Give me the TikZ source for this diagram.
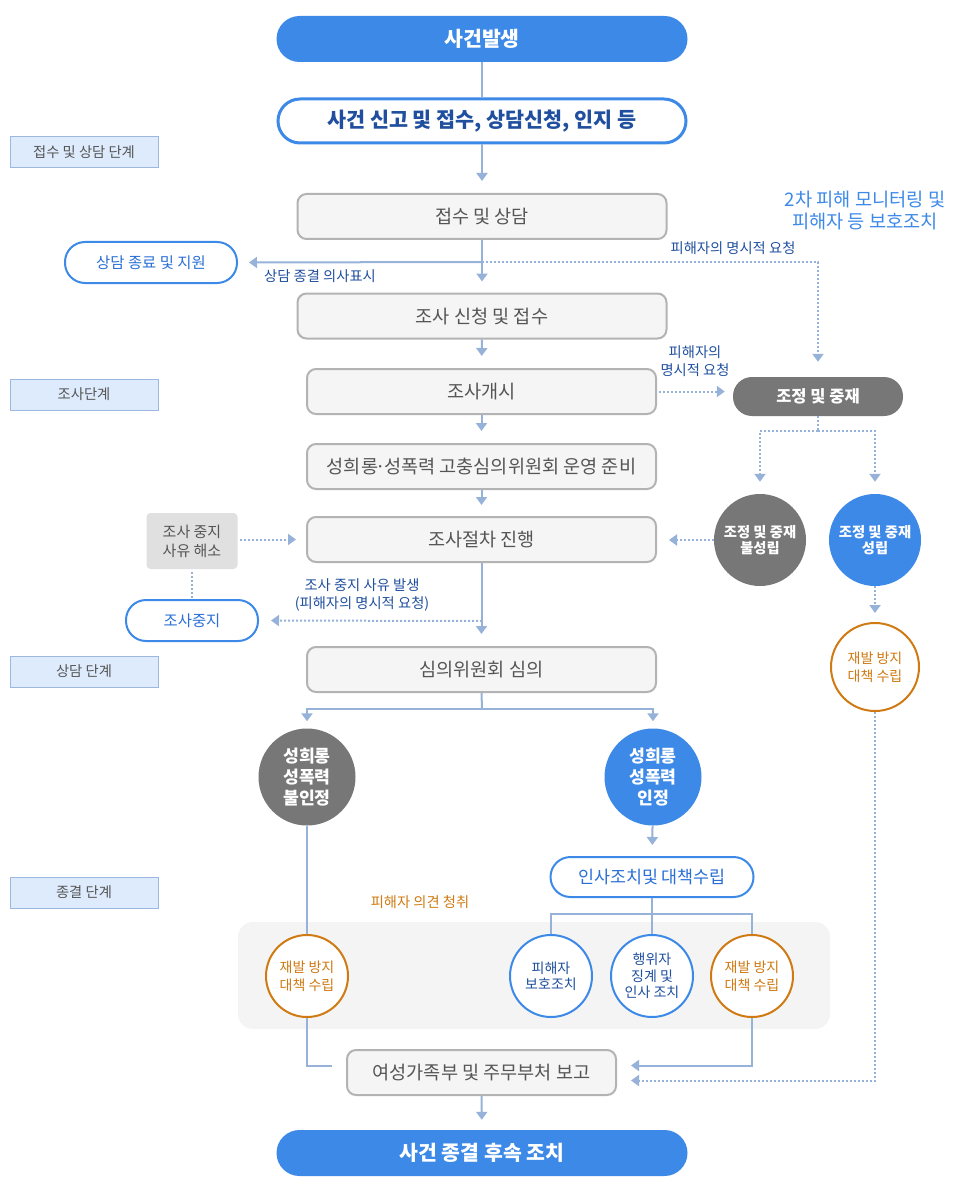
\documentclass[tikz,border=0pt]{standalone}
\usepackage{fontspec}
\setmainfont{Noto Sans CJK KR}
\usetikzlibrary{arrows.meta}
\definecolor{mainBlue}{HTML}{3D89E8}
\definecolor{navyText}{HTML}{1F4F9E}
\definecolor{pillText}{HTML}{2A70D6}
\definecolor{boxEdge}{HTML}{B3B3B3}
\definecolor{boxFill}{HTML}{F5F5F5}
\definecolor{boxText}{HTML}{555555}
\definecolor{darkGrey}{HTML}{777777}
\definecolor{warnOrange}{HTML}{CF7A12}
\definecolor{stageFill}{HTML}{DEEBFC}
\definecolor{stageEdge}{HTML}{9CB8E0}
\definecolor{lineBlue}{HTML}{97B2D9}
\definecolor{zoneFill}{HTML}{F4F4F4}
\definecolor{pauseFill}{HTML}{E0E0E0}

\begin{document}
\begin{tikzpicture}[x=1pt, y=-1pt, >={Triangle[width=11pt,length=8pt]},
  every node/.style={inner sep=0pt, align=center},
  conn/.style={draw=lineBlue, line width=2pt},
  dotconn/.style={conn, dash pattern=on 2pt off 2pt},
  stagebox/.style={draw=stageEdge, fill=stageFill, line width=1pt, minimum width=148pt, minimum height=31pt, text=boxText, font=\fontsize{14.3}{17}\selectfont},
  procbox/.style={draw=boxEdge, fill=boxFill, line width=2pt, rounded corners=9pt, minimum height=45pt, text=boxText, font=\fontsize{18.6}{22}\selectfont},
  fillpill/.style={fill=mainBlue, rounded corners=23pt, minimum width=411pt, minimum height=46pt, text=white, font=\fontsize{20.5}{24}\selectfont\bfseries},
  linepill/.style={draw=mainBlue, fill=white, line width=2pt, rounded corners=20pt, minimum height=41pt, text=pillText, font=\fontsize{15.4}{18}\selectfont},
  greypill/.style={fill=darkGrey, rounded corners=19pt, minimum width=170pt, minimum height=39pt, text=white, font=\fontsize{16.5}{19}\selectfont\bfseries},
  greydisc/.style={circle, fill=darkGrey, text=white, font=\fontsize{14.3}{16.5}\selectfont\bfseries},
  bluedisc/.style={circle, fill=mainBlue, text=white, font=\fontsize{14.3}{16.5}\selectfont\bfseries},
  ringblue/.style={circle, draw=mainBlue, fill=white, line width=2pt, minimum size=82pt, text=navyText, font=\fontsize{14}{16.5}\selectfont},
  ringorange/.style={circle, draw=warnOrange, fill=white, line width=2pt, minimum size=82pt, text=warnOrange, font=\fontsize{14}{17.5}\selectfont},
  note/.style={text=navyText, font=\fontsize{14.3}{17.5}\selectfont}]

\useasboundingbox (0,0) rectangle (955,1190);

% Closing zone background
\fill[zoneFill, rounded corners=15pt] (238,922) rectangle (830,1029);

% Stage labels
\node[stagebox] (stageA) at (84,152.5) {접수 및 상담 단계};
\node[stagebox] (stageB) at (84,394.5) {조사단계};
\node[stagebox] (stageC) at (84,671.5) {상담 단계};
\node[stagebox] (stageD) at (84,892.5) {종결 단계};

% Main flow
\node[fillpill] (start) at (482,39) {사건발생};
\node[linepill, line width=3pt, rounded corners=22pt, minimum width=408pt, minimum height=44pt, text=navyText, font=\fontsize{20.7}{24}\selectfont\bfseries] (report) at (482,121) {사건 신고 및 접수, 상담신청, 인지 등};
\node[procbox, minimum width=369pt] (consult) at (482,216.5) {접수 및 상담};
\node[procbox, minimum width=369pt] (apply) at (482,316) {조사 신청 및 접수};
\node[procbox, minimum width=349pt] (open) at (481.5,391.5) {조사개시};
\node[procbox, minimum width=349pt] (prep) at (481.5,466.5) {성희롱\kern-.12em·\kern-.12em성폭력 고충심의위원회 운영 준비};
\node[procbox, minimum width=349pt] (proc) at (481.5,539.5) {조사절차 진행};
\node[procbox, minimum width=349pt] (review) at (481.5,669.5) {심의위원회 심의};
\node[procbox, minimum width=269pt] (minis) at (481.5,1072.5) {여성가족부 및 주무부처 보고};
\node[fillpill] (final) at (482,1153) {사건 종결 후속 조치};

% Side branches
\node[linepill, minimum width=172pt] (endsup) at (151,262.5) {상담 종료 및 지원};
\node[fill=pauseFill, rounded corners=4pt, minimum width=91pt, minimum height=56pt, text=boxText, font=\fontsize{15}{19}\selectfont] (resolve) at (192,541) {조사 중지\\사유 해소};
\node[linepill, minimum width=132pt] (halt) at (192,620.5) {조사중지};
\node[greypill] (med) at (818,396.5) {조정 및 중재};
\node[greydisc, minimum size=92pt] (fail) at (760,540) {조정 및 중재\\불성립};
\node[bluedisc, minimum size=92pt] (succ) at (875,540) {조정 및 중재\\성립};
\node[ringorange, minimum size=88pt] (prevR) at (875,667) {재발 방지\\대책 수립};

% Outcomes
\node[greydisc, minimum size=97pt, font=\fontsize{17.2}{21}\selectfont\bfseries] (deny) at (307,777) {성희롱\\성폭력\\불인정};
\node[bluedisc, minimum size=97pt, font=\fontsize{17.2}{21}\selectfont\bfseries] (admit) at (653,777) {성희롱\\성폭력\\인정};
\node[linepill, minimum width=203pt, minimum height=40pt, font=\fontsize{17.4}{20}\selectfont] (act) at (652,877) {인사조치및 대책수립};
\node[ringorange] (prevL) at (307,976) {재발 방지\\대책 수립};
\node[ringblue] (prot) at (551,976) {피해자\\보호조치};
\node[ringblue] (disc) at (652,976) {행위자\\징계 및\\인사 조치};
\node[ringorange] (prevB) at (752,976) {재발 방지\\대책 수립};

% Labels
\node[note] (lblEnd) at (320,276) {상담 종결 의사표시};
\node[note] (lblReq) at (733,248) {피해자의 명시적 요청};
\node[note] (lblReq2) at (695,361) {피해자의\\명시적 요청};
\node[note] (lblHalt) at (362,595) {조사 중지 사유 발생\\(피해자의 명시적 요청)};
\node[note, text=warnOrange] (lblHear) at (420,902) {피해자 의견 청취};
\node[text=mainBlue, font=\fontsize{18.7}{22}\selectfont] (lblCare) at (865,210) {2차 피해 모니터링 및\\피해자 등 보호조치};

% Branch points
\coordinate (brA) at (482,262);
\coordinate (brM) at (818,431);
\coordinate (brS) at (482,621);
\coordinate (brR) at (482,709);
\coordinate (brI) at (652,914);

% Connectors
\draw[conn] (start) -- (report);
\draw[conn, ->, shorten >=12pt] (report) -- (consult);
\draw[conn, ->, shorten >=11pt] (consult) -- (apply);
\draw[conn, ->, shorten >=11pt] (brA) -- (endsup.east);
\draw[dotconn, ->, shorten >=15pt] (brA) -| (med.north);
\draw[conn, ->, shorten >=12pt] (apply) -- (open);
\draw[conn, ->, shorten >=12pt] (open) -- (prep);
\draw[conn, ->, shorten >=11pt] (prep) -- (proc);
\draw[dotconn, ->, shorten <=2pt, shorten >=8pt] (open.east) -- (open.east -| med.west);
\draw[dotconn] (med.south) -- (brM);
\draw[dotconn, ->, shorten >=12pt] (brM) -| (fail.north);
\draw[dotconn, ->, shorten >=12pt] (brM) -| (succ.north);
\draw[dotconn, ->, shorten >=12pt] (fail.west) -- (fail.west -| proc.east);
\draw[dotconn, ->, shorten >=9pt] (succ.south) -- (prevR.north);
\draw[dotconn, ->, shorten <=2pt, shorten >=10pt] (resolve.east |- proc.west) -- (proc.west);
\draw[dotconn, shorten <=3pt] (resolve.south) -- (halt.north);
\draw[conn, ->, shorten >=12pt] (proc) -- (review);
\draw[dotconn, ->, shorten >=12pt] (brS) -- (halt.east);
\draw[conn] (review.south) -- (brR);
\draw[conn, ->, shorten >=7pt] (brR) -| (deny.north);
\draw[conn, ->, shorten >=7pt] (brR) -| (admit.north);
\draw[conn, ->, shorten >=11pt] (admit) -- (act);
\draw[conn] (act.south) -- (disc.north);
\draw[conn] (brI) -| (prot.north);
\draw[conn] (brI) -| (prevB.north);
\draw[conn] (deny) -- (prevL);
\draw[conn] (prevL.south) |- ([xshift=-14pt,yshift=7pt]minis.west);
\draw[conn, ->, shorten >=14pt] (prevB.south) |- ([yshift=7pt]minis.east);
\draw[dotconn, ->, shorten >=14pt] (prevR.south) |- ([yshift=-8pt]minis.east);
\draw[conn, ->, shorten >=10pt] (minis) -- (final);

\end{tikzpicture}
\end{document}
